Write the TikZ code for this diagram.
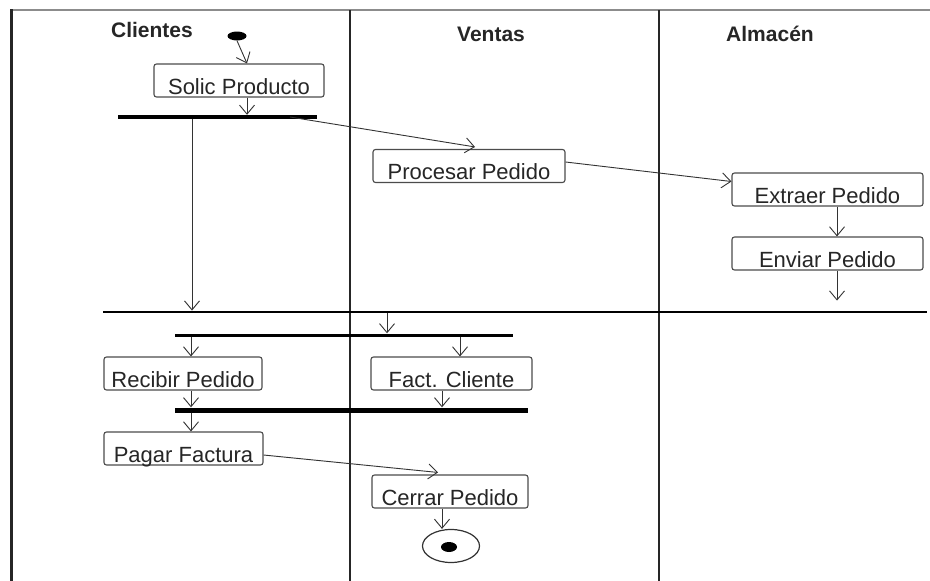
\documentclass[tikz,border=0pt]{standalone}
\usepackage{fontspec}
\setmainfont{Liberation Sans}
\usetikzlibrary{arrows.meta,shapes.geometric}
\begin{document}
\begin{tikzpicture}[x=1pt,y=-1pt,
  lane/.style={draw=black!85,line width=2pt},
  activity/.style={draw=black!70,line width=1.1pt,rounded corners=2.5pt,
    minimum height=33pt,inner xsep=0pt,inner ysep=0pt,
    text height=30pt,text depth=3pt,text=black!85,
    font=\fontsize{22}{24}\selectfont},
  sync/.style={fill=black,inner sep=0pt},
  flow/.style={draw=black!80,line width=0.9pt,
    -{Straight Barb[length=9pt,width=15pt]}},
  lanetitle/.style={font=\bfseries\fontsize{21}{24}\selectfont,
    text=black!85,anchor=base}
]
\useasboundingbox (0,0) rectangle (930,581);
\fill[white] (0,0) rectangle (930,581);

% frame and swimlane separators
\draw[draw=black!45,line width=2pt] (10,10) -- (930,10);
\draw[lane,line width=3pt] (11,9) -- (11,581);
\draw[lane] (350,10) -- (350,581);
\draw[lane] (659,10) -- (659,581);

% lane titles
\node[lanetitle] (tClientes) at (152,37) {Clientes};
\node[lanetitle] (tVentas) at (491,41) {Ventas};
\node[lanetitle] (tAlmacen) at (770,41) {Almacén};

% initial and final states
\node[ellipse,fill=black,inner sep=0pt,minimum width=19pt,minimum height=9pt] (start) at (237,36) {};
\node[ellipse,draw=black!80,line width=1.2pt,inner sep=0pt,minimum width=57pt,minimum height=33pt] (end) at (451,546) {};
\node[ellipse,fill=black,inner sep=0pt,minimum width=16pt,minimum height=10pt] (endDot) at (449,547) {};

% activities
\node[activity,minimum width=170pt] (solic) at (239,80.5) {Solic Producto};
\node[activity,minimum width=192pt] (procesar) at (469,166) {Procesar Pedido};
\node[activity,minimum width=191pt] (extraer) at (827.5,189.5) {Extraer Pedido};
\node[activity,minimum width=191pt] (enviar) at (827.5,253.5) {Enviar Pedido};
\node[activity,minimum width=158pt] (recibir) at (183,373.5) {Recibir Pedido};
\node[activity,minimum width=161pt] (fact) at (451.5,373.5) {Fact. Cliente};
\node[activity,minimum width=159pt] (pagar) at (183.5,448.5) {Pagar Factura};
\node[activity,minimum width=156pt] (cerrar) at (450,491.5) {Cerrar Pedido};

% fork and join bars
\node[sync,minimum width=199pt,minimum height=4pt] (fork1) at (217.5,117) {};
\node[sync,minimum width=824pt,minimum height=2.5pt] (join1) at (515,312) {};
\node[sync,minimum width=338pt,minimum height=3pt] (fork2) at (344,335) {};
\node[sync,minimum width=353pt,minimum height=5pt] (join2) at (351.5,410) {};

% control flow
\draw[flow] (start.south) -- ([xshift=8pt]solic.north);
\draw[flow] ([xshift=8pt]solic.south) -- ([xshift=8pt]solic.south |- fork1.north);
\draw[flow] ([xshift=-25.5pt]fork1.south) -- ([xshift=-25.5pt]fork1.south |- join1.north);
\draw[flow] ([xshift=72.5pt]fork1.center) -- ([xshift=6pt,yshift=2pt]procesar.north);
\draw[flow] ([yshift=4pt]procesar.east) -- ([yshift=8pt]extraer.west);
\draw[flow] ([xshift=9.5pt]extraer.south) -- ([xshift=9.5pt]extraer.south |- enviar.north);
\coordinate (envOut) at ([xshift=9.5pt,yshift=-30pt]enviar.south);
\draw[flow] ([xshift=9.5pt]enviar.south) -- (envOut);
\draw[flow] ([xshift=-128pt]join1.south) -- ([xshift=-128pt]join1.south |- fork2.north);
\draw[flow] ([xshift=8pt]recibir.north |- fork2.south) -- ([xshift=8pt]recibir.north);
\draw[flow] ([xshift=8.5pt]fact.north |- fork2.south) -- ([xshift=8.5pt]fact.north);
\draw[flow] ([xshift=8pt]recibir.south) -- ([xshift=8pt]recibir.south |- join2.north);
\draw[flow] ([xshift=-9.5pt]fact.south) -- ([xshift=-9.5pt]fact.south |- join2.north);
\draw[flow] ([xshift=7.5pt]pagar.north |- join2.south) -- ([xshift=7.5pt]pagar.north);
\draw[flow] ([yshift=-6.5pt]pagar.east) -- ([xshift=-12pt,yshift=2pt]cerrar.north);
\draw[flow] ([xshift=-8pt]cerrar.south) -- ([xshift=-8pt]cerrar.south |- end.north);
\end{tikzpicture}
\end{document}
